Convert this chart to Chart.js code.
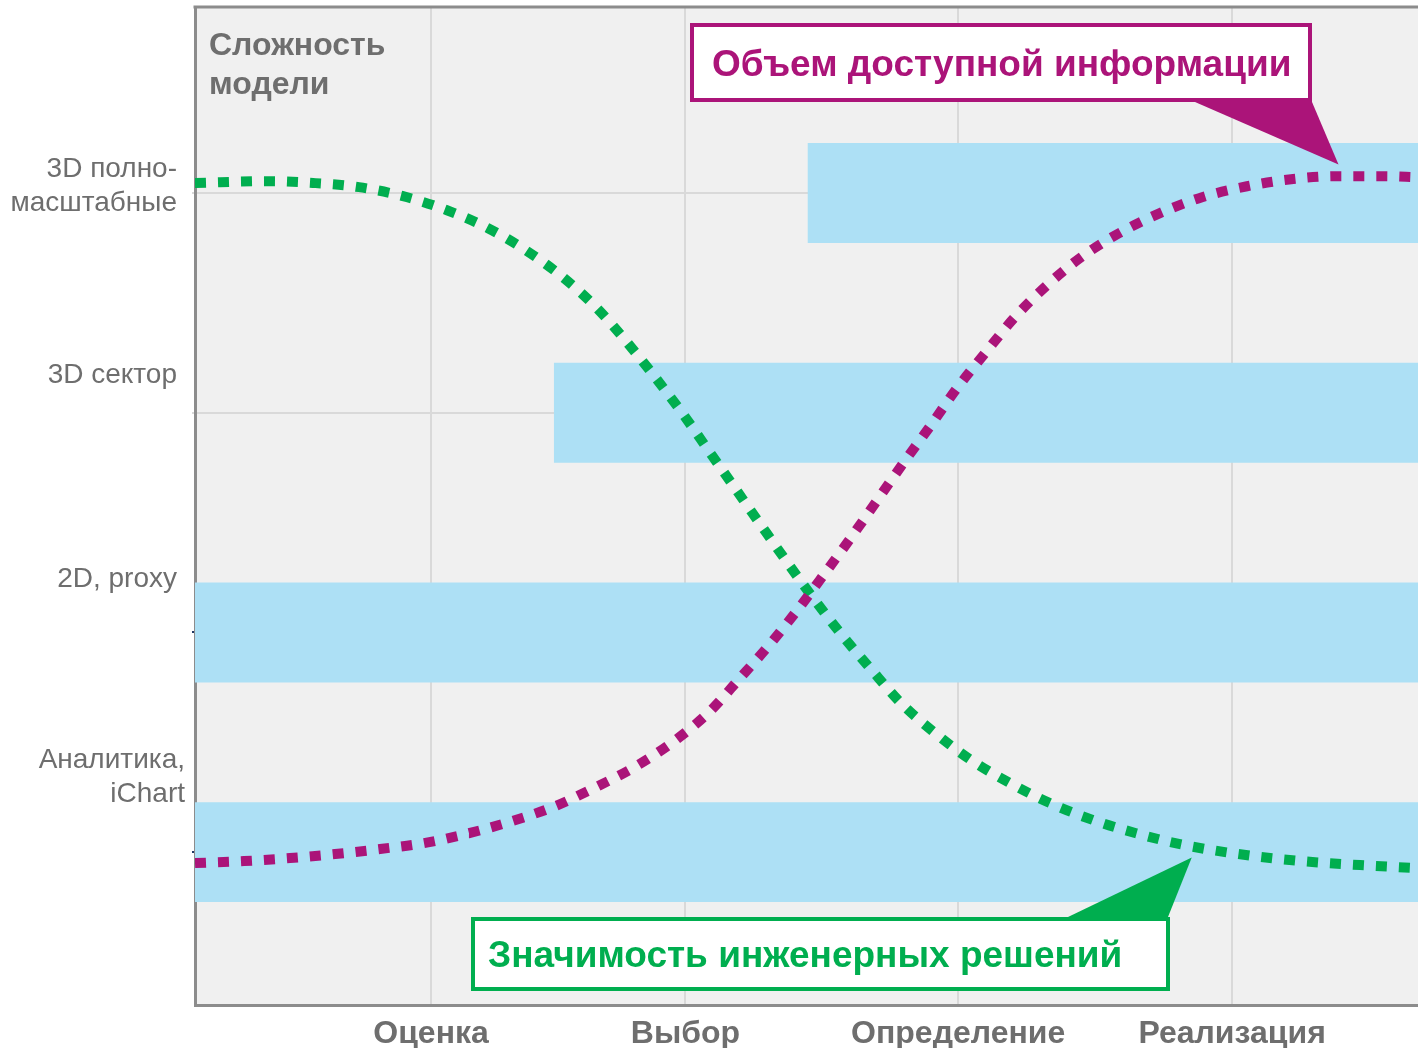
<!DOCTYPE html>
<html lang="ru">
<head>
<meta charset="utf-8">
<title>Сложность модели</title>
<script src="https://cdn.jsdelivr.net/npm/chart.js@4.4.1/dist/chart.umd.min.js"></script>
<style>
  html, body { margin: 0; padding: 0; background: #fff; }
  #wrap { width: 1418px; height: 1048px; }
</style>
</head>
<body>
<div id="wrap"><canvas id="chart"></canvas></div>
<script>
// x runs 0..100 along the project timeline, y is the model complexity level 1..4
const phases = ["Оценка", "Выбор", "Определение", "Реализация"];
const phasePos = [19.3, 40.1, 62.4, 84.8];

const levels = [1, 2, 3, 4];
const levelLabels = [["Аналитика,", "iChart"], ["2D, proxy"], ["3D сектор"], ["3D полно-", "масштабные"]];
const levelLabelPos = [1.34, 2.24, 3.17, 4.03];

// span of the timeline where each model type is used
const bandStart = [0, 0, 29.35, 50.1];
const bandEnd = [100, 100, 100, 100];

// "Объем доступной информации"
const infoX = [0, 4.0, 7.77, 11.45, 15.13, 18.72, 22.4, 25.92, 29.44, 32.79, 36.06, 39.17, 42.03,
  44.56, 47.02, 49.31, 51.51, 53.72, 55.85, 57.97, 60.18, 62.31, 64.6, 66.97, 69.58, 72.45,
  75.55, 78.9, 82.34, 86.02, 89.62, 93.38, 97.06, 100];
const infoY = [0.95, 0.959, 0.973, 0.991, 1.014, 1.041, 1.086, 1.141, 1.209, 1.296, 1.391, 1.505, 1.637,
  1.792, 1.947, 2.106, 2.27, 2.438, 2.607, 2.775, 2.944, 3.112, 3.271, 3.431, 3.576, 3.708,
  3.817, 3.909, 3.981, 4.031, 4.063, 4.077, 4.077, 4.072];

// "Значимость инженерных решений"
const decisionX = [0, 5.97, 9.65, 13.41, 17.01, 20.6, 23.96, 27.15, 30.17, 32.87, 35.32, 37.69, 39.9,
  42.03, 44.15, 46.28, 48.41, 50.61, 52.9, 55.27, 57.73, 60.51, 63.45, 66.64, 69.91, 73.43,
  76.94, 80.54, 84.22, 87.9, 91.58, 95.26, 100];
const decisionY = [4.046, 4.054, 4.046, 4.027, 3.986, 3.922, 3.84, 3.736, 3.613, 3.476, 3.321, 3.157, 2.994,
  2.825, 2.657, 2.488, 2.32, 2.152, 1.988, 1.833, 1.678, 1.542, 1.419, 1.314, 1.223, 1.146,
  1.086, 1.036, 1.0, 0.973, 0.954, 0.941, 0.927];

const FONT = "'Liberation Sans', Arial, sans-serif";
const GREEN = "#00ae4f";
const MAGENTA = "#ab1479";
const TEXT = "#6e6e6e";
const GRID = "#d9d9d9";
const AXIS = "#8c8c8c";

const callouts = [
  { text: "Объем доступной информации", color: MAGENTA, box: [692, 25, 618, 75], textX: 712,
    base: [1195, 1312], baseY: 102, tip: { x: 93.5, y: 4.13 } },
  { text: "Значимость инженерных решений", color: GREEN, box: [473, 919, 695, 70], textX: 488,
    base: [1068, 1168], baseY: 917, tip: { x: 81.5, y: 0.975 } }
];

const toPoints = (xs, ys) => xs.map((x, i) => ({ x: x, y: ys[i] }));

const plotBackground = {
  id: "plotBackground",
  beforeDraw(chart) {
    const { ctx, chartArea: a } = chart;
    ctx.save();
    ctx.fillStyle = "#f0f0f0";
    ctx.fillRect(a.left, a.top, a.right - a.left, a.bottom - a.top);
    ctx.restore();
  }
};

const annotations = {
  id: "annotations",
  afterDraw(chart) {
    const { ctx, chartArea: a } = chart;
    const xs = chart.scales.x, ys = chart.scales.y;
    ctx.save();

    // top frame line
    ctx.strokeStyle = AXIS;
    ctx.lineWidth = 3;
    ctx.beginPath();
    ctx.moveTo(a.left - 1.5, a.top);
    ctx.lineTo(a.right, a.top);
    ctx.stroke();

    // phase names under the x grid lines
    ctx.fillStyle = TEXT;
    ctx.font = "bold 32px " + FONT;
    ctx.textAlign = "center";
    ctx.textBaseline = "middle";
    phases.forEach((p, i) => {
      ctx.fillText(p, xs.getPixelForValue(phasePos[i]), a.bottom + 29);
    });

    // axis title inside the plot
    ctx.textAlign = "left";
    ctx.fillText("Сложность", a.left + 14, 46);
    ctx.fillText("модели", a.left + 14, 85);

    // level names, set a little above their grid lines
    ctx.font = "28px " + FONT;
    ctx.textAlign = "right";
    levelLabels.forEach((lines, i) => {
      const cy = ys.getPixelForValue(levelLabelPos[i]);
      const right = i === 0 ? a.left - 10 : a.left - 18;
      lines.forEach((s, j) => {
        ctx.fillText(s, right, cy + (j - (lines.length - 1) / 2) * 34);
      });
    });

    // callout boxes
    callouts.forEach(c => {
      const tx = xs.getPixelForValue(c.tip.x);
      const ty = ys.getPixelForValue(c.tip.y);
      ctx.fillStyle = c.color;
      ctx.beginPath();
      ctx.moveTo(c.base[0], c.baseY);
      ctx.lineTo(c.base[1], c.baseY);
      ctx.lineTo(tx, ty);
      ctx.closePath();
      ctx.fill();

      const [bx, by, bw, bh] = c.box;
      ctx.fillStyle = "#fff";
      ctx.fillRect(bx, by, bw, bh);
      ctx.strokeStyle = c.color;
      ctx.lineWidth = 4;
      ctx.strokeRect(bx, by, bw, bh);

      ctx.fillStyle = c.color;
      ctx.font = "bold 37px " + FONT;
      ctx.textAlign = "left";
      ctx.textBaseline = "middle";
      ctx.fillText(c.text, c.textX, by + bh / 2 + 3);
    });

    ctx.restore();
  }
};

new Chart(document.getElementById("chart"), {
  type: "line",
  data: {
    datasets: [
      {
        label: "Объем доступной информации",
        data: toPoints(infoX, infoY),
        borderColor: MAGENTA,
        borderWidth: 10,
        borderDash: [11, 12],
        borderCapStyle: "butt",
        pointRadius: 0,
        cubicInterpolationMode: "monotone",
        order: 0
      },
      {
        label: "Значимость инженерных решений",
        data: toPoints(decisionX, decisionY),
        borderColor: GREEN,
        borderWidth: 10,
        borderDash: [11, 12],
        borderCapStyle: "butt",
        pointRadius: 0,
        cubicInterpolationMode: "monotone",
        order: 1
      },
      {
        type: "bar",
        label: "Модели",
        indexAxis: "y",
        data: levels.map((l, i) => ({ y: l, x: [bandStart[i], bandEnd[i]] })),
        backgroundColor: "#ade0f5",
        categoryPercentage: 1,
        barPercentage: 0.455,
        order: 2
      }
    ]
  },
  options: {
    responsive: true,
    maintainAspectRatio: false,
    animation: false,
    layout: { padding: { left: 192, top: 7, right: 0, bottom: 43 } },
    plugins: {
      legend: { display: false },
      tooltip: { enabled: false }
    },
    scales: {
      x: {
        type: "linear",
        min: 0,
        max: 100,
        offset: false,
        afterBuildTicks: s => { s.ticks = phasePos.map(v => ({ value: v })); },
        grid: { color: GRID, lineWidth: 2, drawTicks: false, offset: false },
        border: { color: AXIS, width: 3 },
        ticks: { display: false }
      },
      y: {
        type: "linear",
        min: 0.304,
        max: 4.847,
        offset: false,
        afterBuildTicks: s => { s.ticks = levels.map(v => ({ value: v })); },
        grid: {
          color: GRID,
          lineWidth: 2,
          offset: false,
          tickLength: 3,
          tickColor: c => (c.tick && c.tick.value <= 2 ? "#1f3864" : GRID)
        },
        border: { color: AXIS, width: 3 },
        ticks: { display: false }
      }
    }
  },
  plugins: [plotBackground, annotations]
});
</script>
</body>
</html>
